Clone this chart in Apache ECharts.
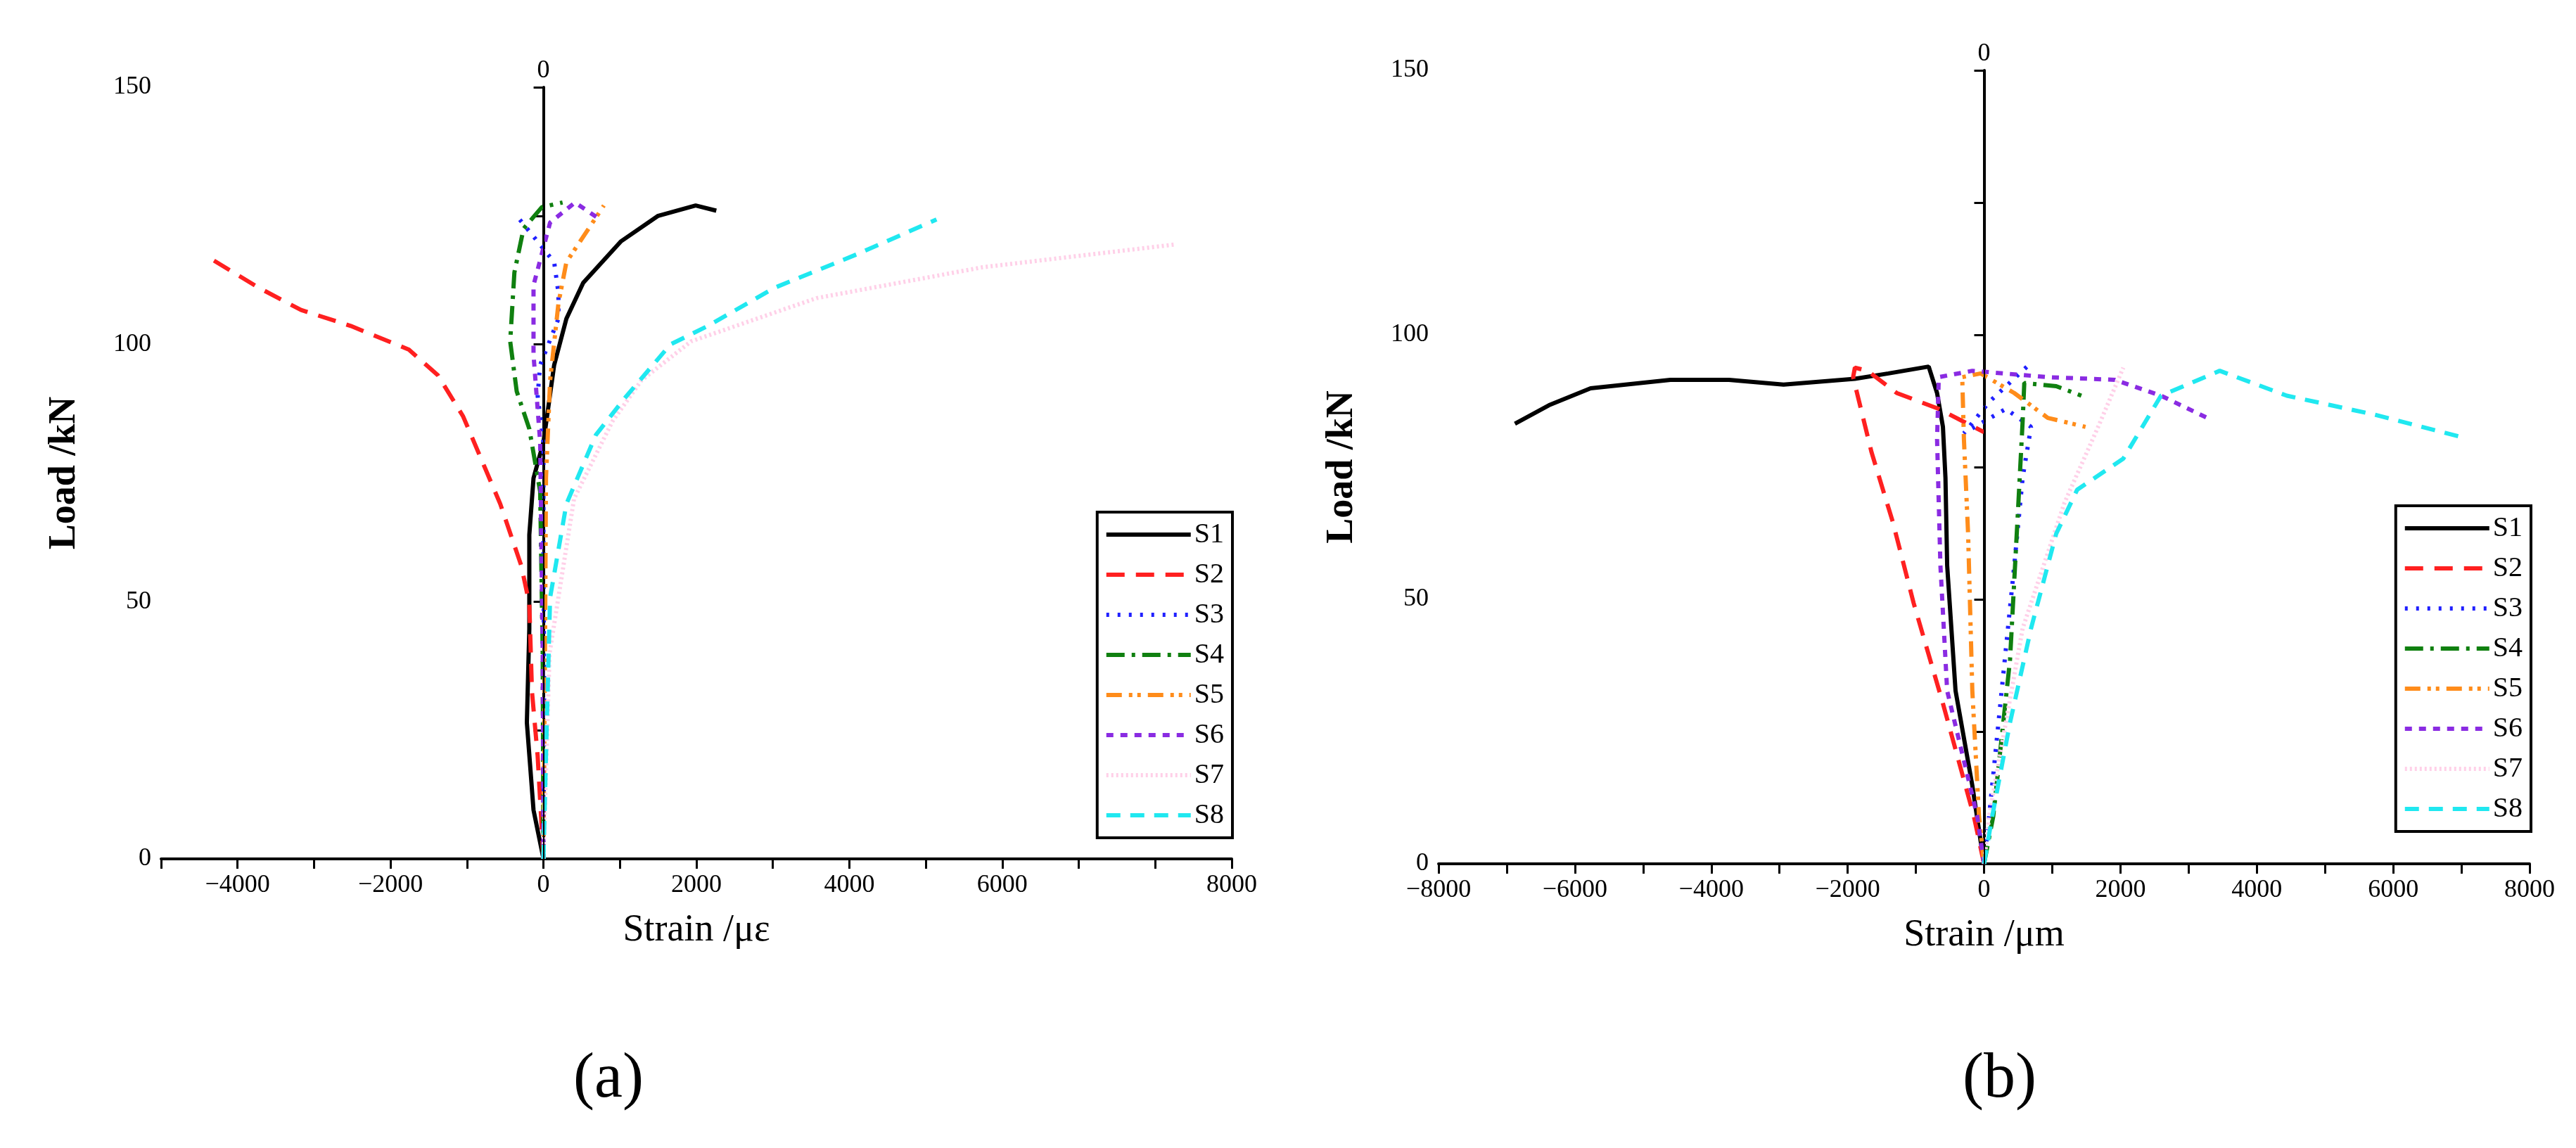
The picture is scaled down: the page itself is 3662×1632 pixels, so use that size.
<!DOCTYPE html>
<html>
<head>
<meta charset="utf-8">
<script src="https://cdn.jsdelivr.net/npm/echarts@6/dist/echarts.min.js"></script>
<style>html,body{margin:0;padding:0;background:#fff}#main{width:3662px;height:1632px}</style>
</head>
<body>
<div id="main"></div>
<script>
// panel (a): [strain, load]
var a_S1 = [[0,0],[-130,9.5],[-217,26.5],[-185,44.7],[-185,63],[-130,74],[0,81],[140,96],[300,105],[520,112],[1010,120],[1500,125],[1990,127],[2260,126]];
var a_S2 = [[0,0],[-76,20],[-150,32.5],[-185,49.6],[-290,57],[-565,69],[-1050,86],[-1380,94],[-1760,99],[-2520,103.6],[-3170,106.7],[-3720,111],[-4320,116.4]];
var a_S3 = [[0,0],[10,30],[0,60],[0,81],[-76,90],[-43,96],[196,105],[196,110],[140,116],[-76,120],[-350,125]];
var a_S4 = [[0,0],[-10,40],[-43,71.4],[-185,83.6],[-350,90.9],[-435,100.6],[-380,114],[-260,122.5],[-20,126.7],[250,127.6]];
var a_S5 = [[0,0],[20,40],[33,74],[87,93],[196,108],[300,116],[790,127]];
var a_S6 = [[0,0],[-10,40],[-43,81],[-130,98],[-130,111.5],[87,123.7],[413,127.6],[740,124.3]];
var a_S7 = [[0,0],[80,40],[400,70],[900,85],[1280,93],[1930,100.6],[3570,109],[5740,115],[8240,119.4]];
var a_S8 = [[0,0],[33,20],[87,50.8],[300,69],[685,82.4],[1065,89.6],[1660,100],[2150,103.6],[3020,111],[4110,117.6],[5140,124.3]];

// panel (b): [strain, load]
var b_S1 = [[0,0],[-172,14.8],[-418,32.7],[-541,56.4],[-566,73],[-603,82.6],[-689,89],[-812,94],[-1402,92.7],[-1894,91.7],[-2940,90.6],[-3740,91.5],[-4600,91.5],[-5770,89.9],[-6380,86.7],[-6880,83.2]];
var b_S2 = [[0,0],[-148,8.9],[-603,30.3],[-1033,49.3],[-1340,64.7],[-1650,77.8],[-1920,92],[-1894,93.8],[-1710,93.2],[-1280,89],[-664,86],[0,81.6]];
var b_S3 = [[0,0],[74,9],[258,32.7],[443,56.4],[566,73],[689,82.6],[320,86],[-295,81.4],[74,87.3],[689,94.7]];
var b_S4 = [[0,0],[135,9],[381,38.6],[504,68.3],[566,83.7],[590,90.9],[1058,90.3],[1427,88.5]];
var b_S5 = [[0,0],[-74,9],[-172,32.7],[-234,62.4],[-295,80.2],[-320,92],[-49,92.7],[443,89],[935,84.3],[1488,82.6]];
var b_S6 = [[0,0],[-100,9],[-541,32.7],[-640,56.4],[-689,80.2],[-664,92],[-172,93.2],[935,92],[1919,91.5],[2595,88.5],[3272,84.3]];
var b_S7 = [[0,0],[74,9],[566,44.5],[1181,68.3],[1673,82.6],[2042,93.8]];
var b_S8 = [[0,0],[120,9],[381,26.7],[689,44.5],[1058,62.4],[1365,70.7],[2042,76.6],[2595,88.5],[3456,93.2],[4440,88.5],[5730,84.9],[6960,80.8]];

var names = ['S1','S2','S3','S4','S5','S6','S7','S8'];
var colors = ['#000000','#ff2020','#2020ff','#108010','#ff8c1a','#8a2be2','#ffd0e8','#20e8f0'];
var dashes = ['solid',[26,16],[4,12],[26,10,5,10],[22,10,5,7,5,10],[10,10],[3,4],[20,14]];
var font = 'Liberation Serif';

function mkSeries(data, i, idx) {
    var s = {
        name: names[i], type: 'line', data: data, xAxisIndex: idx, yAxisIndex: idx,
        showSymbol: false, symbol: 'circle', symbolSize: 0,
        lineStyle: {color: colors[i], width: 6, type: dashes[i]},
        itemStyle: {color: colors[i], opacity: 0}, z: 3
    };
    if (i == 0) {
        s.markLine = {
            silent: true, symbol: 'none',
            lineStyle: {color: '#000', width: 2, type: 'solid'},
            label: {show: true, position: 'end', formatter: '0', fontFamily: font, fontSize: 36, color: '#000'},
            data: [{xAxis: 0}]
        };
    }
    return s;
}

function xAx(idx, min, max, title) {
    return {
        gridIndex: idx, type: 'value', min: min, max: max, interval: 1000,
        name: title, nameLocation: 'middle', nameGap: 75,
        nameTextStyle: {fontFamily: font, fontSize: 54, color: '#000'},
        axisLine: {onZero: false, lineStyle: {color: '#000', width: 4}},
        axisTick: {show: true, length: 14, lineStyle: {color: '#000', width: 3}},
        splitLine: {show: false},
        axisLabel: {fontFamily: font, fontSize: 36, color: '#000', margin: 20, showMinLabel: true, showMaxLabel: true,
            formatter: function (v) {
                if (idx == 0 && v == 9000) return '8000';
                if (idx == 0 && v == 8000) return '';
                return (v % 2000 == 0) ? String(v).replace('-', '\u2212') : '';
            }}
    };
}
function yAx(idx) {
    return {
        gridIndex: idx, type: 'value', min: 0, max: 150, interval: 25,
        name: 'Load /kN', nameLocation: 'middle', nameGap: 110,
        nameTextStyle: {fontFamily: font, fontSize: 54, fontWeight: 'bold', color: '#000'},
        axisLine: {show: true, lineStyle: {color: '#000', width: 4}},
        axisTick: {show: true, length: 14, lineStyle: {color: '#000', width: 3}},
        splitLine: {show: false},
        axisLabel: {fontFamily: font, fontSize: 36, color: '#000', margin: 14,
            formatter: function (v) { return v % 50 == 0 ? v : ''; }}
    };
}
function legend(right, top) {
    return {
        show: true, orient: 'vertical', right: right, top: top, data: names,
        itemWidth: 120, itemHeight: 14, itemGap: 17,
        padding: [12, 12, 12, 10], borderColor: '#000', borderWidth: 4, backgroundColor: '#fff',
        itemStyle: {opacity: 0}, lineStyle: {width: 6},
        textStyle: {fontFamily: font, fontSize: 40, color: '#000'}
    };
}

var aSets = [a_S1, a_S2, a_S3, a_S4, a_S5, a_S6, a_S7, a_S8];
var bSets = [b_S1, b_S2, b_S3, b_S4, b_S5, b_S6, b_S7, b_S8];
var series = [];
for (var i = 0; i < 8; i++) series.push(mkSeries(aSets[i], i, 0));
for (var i = 0; i < 8; i++) series.push(mkSeries(bSets[i], i, 1));

var myChart = echarts.init(document.getElementById('main'));
myChart.setOption({
    animation: false,
    backgroundColor: '#fff',
    grid: [
        {left: 229, top: 124, width: 1522, height: 1097},
        {left: 2045, top: 100, width: 1551, height: 1128}
    ],
    xAxis: [xAx(0, -5000, 9000, 'Strain /\u03bc\u03b5'), xAx(1, -8000, 8000, 'Strain /\u03bcm')],
    yAxis: [yAx(0), yAx(1)],
    legend: [legend(3662 - 1752, 728), legend(3662 - 3598, 719)],
    graphic: [
        {type: 'text', left: 815, top: 1490, style: {text: '(a)', font: '90px "Liberation Serif"', fill: '#000'}},
        {type: 'text', left: 2790, top: 1490, style: {text: '(b)', font: '90px "Liberation Serif"', fill: '#000'}}
    ],
    series: series
});
window.onresize = myChart.resize;
</script>
</body>
</html>
